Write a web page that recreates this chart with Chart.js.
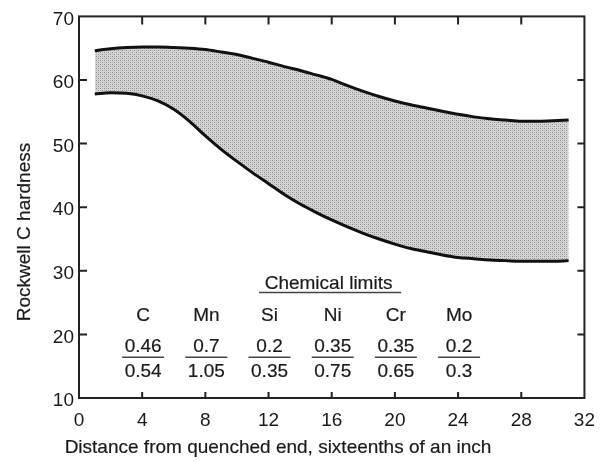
<!DOCTYPE html>
<html lang="en">
<head>
<meta charset="UTF-8">
<title>Hardenability band</title>
<script src="https://cdn.jsdelivr.net/npm/chart.js"></script>
<style>
  body { margin: 0; background: #fff; }
</style>
</head>
<body>
<canvas id="bandChart" width="606" height="461"></canvas>
<script>
// Jominy distance (sixteenths of an inch) and the band limits
const distances = [1, 2, 3, 4, 5, 6, 7, 8, 9, 10, 11, 12, 13, 14, 15, 16,
                   17, 18, 19, 20, 21, 22, 23, 24, 25, 26, 27, 28, 29, 30, 31];
const maxHardness = [64.6, 64.9, 65.1, 65.2, 65.2, 65.1, 65.0, 64.8, 64.4, 64.0, 63.4,
                     62.8, 62.1, 61.5, 60.8, 60.1, 59.1, 58.2, 57.4, 56.7, 56.1, 55.6,
                     55.1, 54.6, 54.2, 53.9, 53.7, 53.5, 53.5, 53.6, 53.7];
const minHardness = [57.8, 58.0, 57.9, 57.5, 56.7, 55.4, 53.5, 51.2, 49.1, 47.2, 45.4,
                     43.7, 42.0, 40.5, 39.2, 38.0, 36.9, 35.9, 35.0, 34.2, 33.5, 33.0,
                     32.5, 32.1, 31.9, 31.7, 31.6, 31.5, 31.5, 31.5, 31.6];

// chemical limits, in percent
const elements = ['C', 'Mn', 'Si', 'Ni', 'Cr', 'Mo'];
const lowLimits = [0.46, 0.7, 0.2, 0.35, 0.35, 0.2];
const highLimits = [0.54, 1.05, 0.35, 0.75, 0.65, 0.3];

const FONT = '"Liberation Sans", Arial, Helvetica, sans-serif';
const INK = '#1a1a1a';

function stipple() {
  const c = document.createElement('canvas');
  c.width = 4; c.height = 4;
  const g = c.getContext('2d');
  g.fillStyle = '#d6d6d6';
  g.fillRect(0, 0, 4, 4);
  g.fillStyle = '#888';
  g.fillRect(0, 0, 1, 1);
  g.fillRect(2, 2, 1, 1);
  g.fillStyle = '#b0b0b0';
  g.fillRect(2, 0, 1, 1);
  g.fillRect(0, 2, 1, 1);
  return g.createPattern(c, 'repeat');
}

// text drawn a touch heavier, like the printed labels
function heavyText(ctx, str, px, py) {
  ctx.fillText(str, px, py);
  ctx.lineWidth = 0.2;
  ctx.strokeStyle = INK;
  ctx.strokeText(str, px, py);
}

// frame, inward ticks, axis titles and the chemistry table
const decorations = {
  id: 'decorations',
  afterDraw(chart) {
    const ctx = chart.ctx;
    const a = chart.chartArea;
    const x = chart.scales.x;
    const y = chart.scales.y;

    ctx.save();
    ctx.strokeStyle = '#222';
    ctx.lineWidth = 2;
    ctx.strokeRect(a.left, a.top, a.right - a.left, a.bottom - a.top);

    ctx.beginPath();
    for (let v = 20; v <= 60; v += 10) {
      const py = y.getPixelForValue(v);
      ctx.moveTo(a.left, py); ctx.lineTo(a.left + 8, py);
      ctx.moveTo(a.right, py); ctx.lineTo(a.right - 7, py);
    }
    for (let v = 4; v <= 28; v += 4) {
      const px = x.getPixelForValue(v);
      ctx.moveTo(px, a.top); ctx.lineTo(px, a.top + 8);
      ctx.moveTo(px, a.bottom); ctx.lineTo(px, a.bottom - 6);
    }
    ctx.stroke();

    ctx.fillStyle = INK;
    ctx.font = '19px ' + FONT;
    ctx.textAlign = 'center';
    ctx.textBaseline = 'middle';
    heavyText(ctx, 'Distance from quenched end, sixteenths of an inch', 278, 448);

    ctx.save();
    ctx.translate(25, 232);
    ctx.rotate(-Math.PI / 2);
    heavyText(ctx, 'Rockwell C hardness', 0, 0);
    ctx.restore();

    // table heading
    const headY = y.getPixelForValue(27.9);
    heavyText(ctx, 'Chemical limits', x.getPixelForValue(15.8), headY);
    ctx.strokeStyle = '#444';
    ctx.lineWidth = 1.5;
    ctx.beginPath();
    const ulY = y.getPixelForValue(26.6);
    ctx.moveTo(x.getPixelForValue(11.4), ulY);
    ctx.lineTo(x.getPixelForValue(20.4), ulY);
    ctx.stroke();

    const nameY = y.getPixelForValue(23.0);
    const lowY = y.getPixelForValue(18.0);
    const barY = y.getPixelForValue(16.4);
    const highY = y.getPixelForValue(14.1);
    elements.forEach((el, i) => {
      const cx = x.getPixelForValue(4 * (i + 1)) + 1;
      heavyText(ctx, el, cx, nameY);
      heavyText(ctx, String(lowLimits[i]), cx, lowY);
      heavyText(ctx, String(highLimits[i]), cx, highY);
      ctx.strokeStyle = '#444';
      ctx.lineWidth = 1.5;
      ctx.beginPath();
      ctx.moveTo(cx - 21, barY);
      ctx.lineTo(cx + 21, barY);
      ctx.stroke();
    });
    ctx.restore();
  }
};

new Chart(document.getElementById('bandChart'), {
  type: 'line',
  data: {
    labels: distances,
    datasets: [
      {
        label: 'Maximum',
        data: distances.map((d, i) => ({ x: d, y: maxHardness[i] })),
        borderColor: '#111',
        borderWidth: 3,
        pointRadius: 0,
        fill: false,
        cubicInterpolationMode: 'monotone'
      },
      {
        label: 'Minimum',
        data: distances.map((d, i) => ({ x: d, y: minHardness[i] })),
        borderColor: '#111',
        borderWidth: 3,
        pointRadius: 0,
        fill: '-1',
        backgroundColor: stipple(),
        cubicInterpolationMode: 'monotone'
      }
    ]
  },
  options: {
    responsive: false,
    animation: false,
    layout: { padding: { top: 15, right: 13, left: 0, bottom: 0 } },
    plugins: {
      legend: { display: false },
      tooltip: { enabled: false }
    },
    scales: {
      x: {
        type: 'linear',
        min: 0,
        max: 32,
        ticks: { stepSize: 4, color: INK, font: { family: FONT, size: 19 }, padding: 11, maxRotation: 0 },
        grid: { display: false, drawTicks: false },
        border: { display: false },
        afterFit(scale) { scale.height = 63; }
      },
      y: {
        min: 10,
        max: 70,
        ticks: { stepSize: 10, color: INK, font: { family: FONT, size: 19 }, padding: 5, labelOffset: 3 },
        grid: { display: false, drawTicks: false },
        border: { display: false },
        afterFit(scale) { scale.width = 79; }
      }
    }
  },
  plugins: [decorations]
});
</script>
</body>
</html>
